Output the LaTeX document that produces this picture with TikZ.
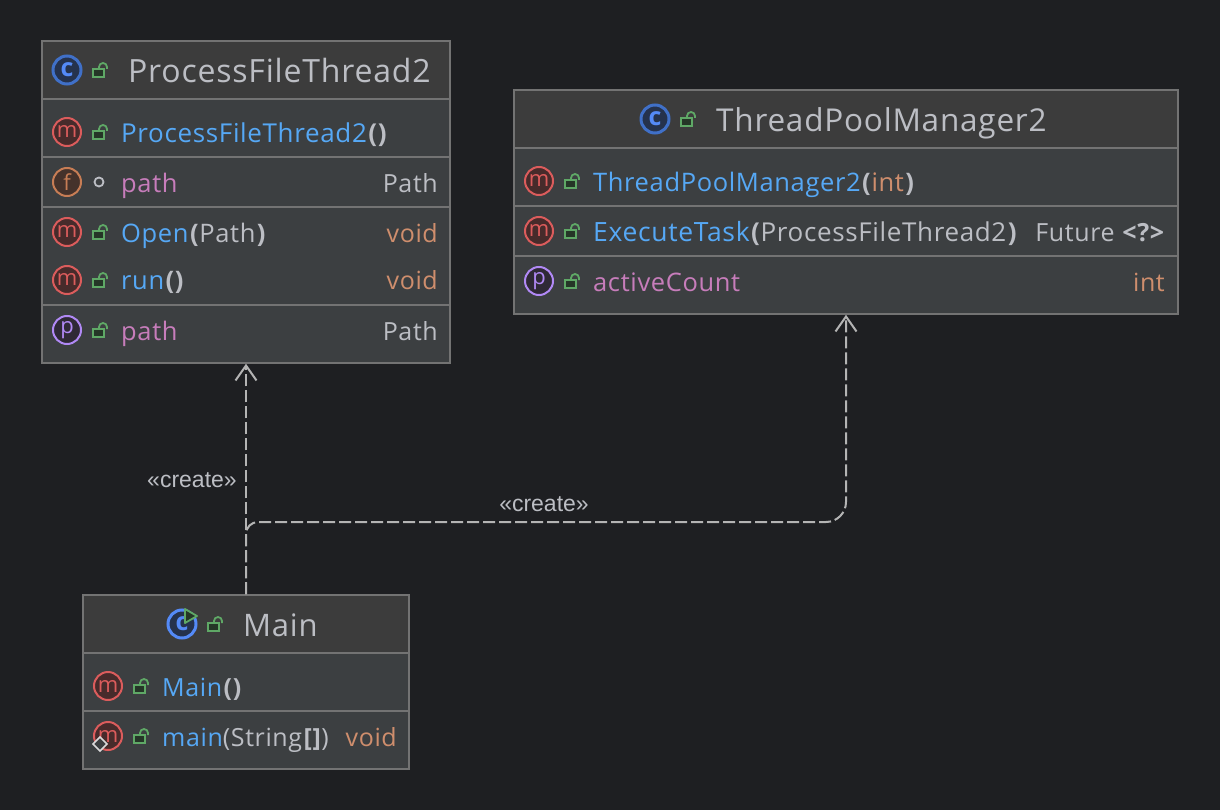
\documentclass[tikz,border=0pt]{standalone}
\usepackage{fontspec}
\setmainfont[LetterSpace=2.5]{Open Sans}
\newfontfamily\labelfont{Liberation Sans}
\usepackage{xcolor}
\usetikzlibrary{arrows.meta,positioning,calc}

\definecolor{canvas}{HTML}{1E1F22}
\definecolor{headfill}{HTML}{3C3C3C}
\definecolor{bodyfill}{HTML}{3C3F41}
\definecolor{rulecol}{HTML}{737373}
\definecolor{greytext}{HTML}{BCBEC4}
\definecolor{methodtext}{HTML}{56A8F5}
\definecolor{fieldtext}{HTML}{C77DBB}
\definecolor{typetext}{HTML}{CF8E6D}
\definecolor{lockcol}{HTML}{5FA866}
\definecolor{lockfill}{HTML}{253627}
\definecolor{linkcol}{HTML}{B4B4B4}
\definecolor{classline}{HTML}{4070C8}
\definecolor{classfill}{HTML}{25324D}
\definecolor{classtext}{HTML}{548AF7}
\definecolor{methodline}{HTML}{DB5C5C}
\definecolor{methodfill}{HTML}{472B2B}
\definecolor{fieldline}{HTML}{C77D55}
\definecolor{fieldfill}{HTML}{45322B}
\definecolor{propline}{HTML}{B189F5}
\definecolor{propfill}{HTML}{2F2936}

\newcommand{\fs}[1]{\fontsize{#1}{#1}\selectfont}
\newcommand{\bp}[1]{\kern1.5pt\textbf{#1}}

\begin{document}
\begin{tikzpicture}[
    x=1pt,
    y=-1pt,
    umlbox/.style={draw=rulecol, line width=1.5pt, fill=bodyfill, inner sep=0pt},
    sep/.style={rulecol, line width=1.5pt},
    title/.style={anchor=base west, inner sep=0pt, text=greytext, font=\fs{32}},
    member/.style={anchor=base west, inner sep=0pt, text=greytext, font=\fs{25.5}},
    rtype/.style={anchor=base east, inner sep=0pt, text=typetext, font=\fs{25}},
    badge/.style={circle, line width=2pt, minimum size=28pt, inner sep=0pt, font=\fs{22}},
    cbadge/.style={badge, line width=3pt, draw=classline, fill=classfill, text=classtext, font=\bfseries\fs{25}},
    mbadge/.style={badge, draw=methodline, fill=methodfill, text=methodline},
    fbadge/.style={badge, draw=fieldline, fill=fieldfill, text=fieldline},
    pbadge/.style={badge, draw=propline, fill=propfill, text=propline},
    link/.style={draw=linkcol, line width=2pt, dash pattern=on 12pt off 4pt},
    linktext/.style={inner sep=0pt, text=greytext, font=\labelfont\fs{23}},
    lockicon/.pic={
        \draw[lockcol, line width=1.8pt, fill=lockfill] (-7,-1) rectangle (4,7);
        \draw[lockcol, line width=1.8pt] (-1,-1) -- (-1,-3) arc[start angle=180, end angle=360, x radius=4, y radius=4] -- (7,-1);
    }
]
    % Canvas
    \fill[canvas] (0,0) rectangle (1220,810);

    % ProcessFileThread2
    \node[umlbox, minimum width=408pt, minimum height=322pt] (pfbox) at (246,202) {};
    \fill[headfill] (42.8,41.8) rectangle (449.2,98);
    \draw[sep] (42,99) -- (450,99);
    \draw[sep] (42,157) -- (450,157);
    \draw[sep] (42,207) -- (450,207);
    \draw[sep] (42,305) -- (450,305);
    \node[cbadge] (pfclass) at (67,70) {c};
    \pic at (100,70) {lockicon};
    \node[title] (pfname) at (128,83) {ProcessFileThread2};
    \node[mbadge] (pfctoricon) at (67,132) {m};
    \pic at (100,132) {lockicon};
    \node[member, font=\fs{26}] (pfctor) at (121,143) {\textcolor{methodtext}{ProcessFileThread2}\bp{()}};
    \node[fbadge] (pffieldicon) at (67,182) {f};
    \node[circle, draw=greytext, line width=1.8pt, minimum size=9pt, inner sep=0pt] (pfpackage) at (99,182) {};
    \node[member, text=fieldtext] (pffield) at (121,193) {path};
    \node[rtype, text=greytext] (pffieldtype) at (438,193) {Path};
    \node[mbadge] (pfopenicon) at (67,232) {m};
    \pic at (100,232) {lockicon};
    \node[member] (pfopen) at (121,243) {\textcolor{methodtext}{Open}\bp{(}Path\bp{)}};
    \node[rtype] (pfopentype) at (438,243) {void};
    \node[mbadge] (pfrunicon) at (67,280) {m};
    \pic at (100,280) {lockicon};
    \node[member] (pfrun) at (121,290) {\textcolor{methodtext}{run}\bp{()}};
    \node[rtype] (pfruntype) at (438,290) {void};
    \node[pbadge] (pfpropicon) at (67,330) {p};
    \pic at (100,330) {lockicon};
    \node[member, text=fieldtext] (pfprop) at (121,340) {path};
    \node[rtype, text=greytext] (pfproptype) at (438,340) {Path};

    % ThreadPoolManager2
    \node[umlbox, minimum width=664pt, minimum height=224pt] (tpbox) at (846,202) {};
    \fill[headfill] (514.8,90.8) rectangle (1177.2,147);
    \draw[sep] (514,148) -- (1178,148);
    \draw[sep] (514,206) -- (1178,206);
    \draw[sep] (514,256) -- (1178,256);
    \node[cbadge] (tpclass) at (655,119) {c};
    \pic at (688,119) {lockicon};
    \node[title, font=\fs{31.5}] (tpname) at (716,132) {ThreadPoolManager2};
    \node[mbadge] (tpctoricon) at (539,181) {m};
    \pic at (572,181) {lockicon};
    \node[member] (tpctor) at (593,192) {\textcolor{methodtext}{ThreadPoolManager2}\bp{(}\textcolor{typetext}{int}\bp{)}};
    \node[mbadge] (tpexecicon) at (539,231) {m};
    \pic at (572,231) {lockicon};
    \node[member, font=\fs{26}] (tpexec) at (593,242) {\textcolor{methodtext}{\fs{26.5}ExecuteTask}\bp{(}ProcessFileThread2\bp{)}};
    \node[rtype, text=greytext] (tpexectype) at (1165,242) {Future \textbf{<?>}};
    \node[pbadge] (tppropicon) at (539,281) {p};
    \pic at (572,281) {lockicon};
    \node[member, text=fieldtext] (tpprop) at (593,291) {activeCount};
    \node[rtype] (tpproptype) at (1165,291) {int};

    % Main
    \node[umlbox, minimum width=326pt, minimum height=174pt] (mainbox) at (246,682) {};
    \fill[headfill] (83.8,595.8) rectangle (408.2,652);
    \draw[sep] (83,653) -- (409,653);
    \draw[sep] (83,711) -- (409,711);
    \node[cbadge, draw=classtext] (mainclass) at (182,624) {c};
    \draw[lockcol, line width=1.8pt, fill=lockfill, line join=round] (185,609) -- (197,616) -- (185,623) -- cycle;
    \pic at (215,624) {lockicon};
    \node[title, font=\fs{31}] (mainname) at (243,636) {Main};
    \node[mbadge] (mainctoricon) at (108,686) {m};
    \pic at (141,686) {lockicon};
    \node[member, font=\fs{25}] (mainctor) at (162,696) {\textcolor{methodtext}{Main}\bp{()}};
    \node[mbadge] (mainmainicon) at (108,736) {m};
    \pic at (141,736) {lockicon};
    \node[member, font=\fs{25}] (mainmain) at (162,746) {\textcolor{methodtext}{main}(String\bp{[]})};
    \node[rtype] (mainmaintype) at (397,746) {void};
    \draw[white!85!black, line width=1.5pt, fill=bodyfill] (100,737) -- (107,744) -- (100,751) -- (93,744) -- cycle;

    % Dependencies
    \coordinate (turn) at (246,522);
    \draw[link, -{Straight Barb[length=15pt, width=21pt]}] (mainbox.north) -- (pfbox.south);
    \draw[link, rounded corners=12pt, -{Straight Barb[length=15pt, width=21pt]}] (mainbox.north) -- (turn) [rounded corners=20pt] -| (tpbox.south);
    \node[linktext] (createa) at (192,480) {«create»};
    \node[linktext] (createb) at (544,504) {«create»};
\end{tikzpicture}
\end{document}
